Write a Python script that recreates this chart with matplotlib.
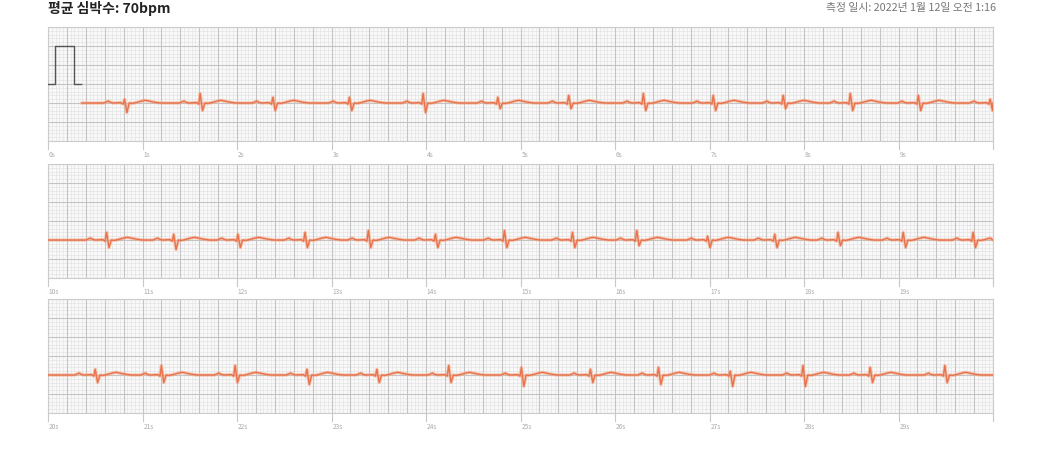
import numpy as np
import matplotlib
matplotlib.use('Agg')
import matplotlib.pyplot as plt

plt.rcParams['font.family'] = ['Noto Sans CJK KR', 'DejaVu Sans']

title_left = '평균 심박수: 70bpm'
title_right = '측정 일시: 2022년 1월 12일 오전 1:16'

# beat (QRS) times in seconds, per 10 s strip
beats1 = [0.81, 1.61, 2.38, 3.19, 3.97, 4.76, 5.51, 6.30, 7.04, 7.78, 8.49, 9.21, 9.97]
beats2 = [0.62, 1.33, 2.01, 2.72, 3.39, 4.10, 4.83, 5.55, 6.23, 6.98, 7.69, 8.36, 9.05, 9.79]
beats3 = [0.50, 1.20, 1.98, 2.74, 3.48, 4.24, 5.01, 5.74, 6.46, 7.22, 7.99, 8.70, 9.49]

# R peak height and S dip depth (mV from baseline)
r1 = [0.10, 0.25, 0.15, 0.15, 0.25, 0.15, 0.20, 0.25, 0.20, 0.20, 0.25, 0.20, 0.10]
s1 = [0.25, 0.20, 0.20, 0.20, 0.25, 0.15, 0.15, 0.20, 0.20, 0.15, 0.20, 0.20, 0.20]
r2 = [0.20, 0.15, 0.15, 0.20, 0.25, 0.15, 0.25, 0.20, 0.25, 0.10, 0.15, 0.20, 0.20, 0.20]
s2 = [0.20, 0.25, 0.20, 0.20, 0.20, 0.20, 0.20, 0.20, 0.15, 0.20, 0.20, 0.15, 0.20, 0.20]
r3 = [0.15, 0.25, 0.25, 0.15, 0.15, 0.25, 0.20, 0.15, 0.20, 0.10, 0.25, 0.20, 0.25]
s3 = [0.20, 0.20, 0.20, 0.25, 0.20, 0.20, 0.30, 0.20, 0.25, 0.30, 0.30, 0.20, 0.20]

# one beat: offset (s) and level (mV) relative to R
beat_dt = [-0.22, -0.19, -0.17, -0.15, -0.12, -0.04, -0.015, 0.0, 0.025, 0.05,
           0.08, 0.12, 0.18, 0.22, 0.26, 0.32, 0.38]
beat_mv = [0.0, 0.03, 0.05, 0.02, 0.0, 0.01, -0.03, None, None, 0.0,
           -0.01, 0.01, 0.05, 0.07, 0.05, 0.02, 0.0]

baseline = -0.5
trace_start = [0.36, 0.0, 0.0]

# calibration pulse (1 mV)
cal_t = [0.0, 0.07, 0.07, 0.28, 0.28, 0.35]
cal_mv = [0.0, 0.0, 1.0, 1.0, 0.0, 0.0]


def build_trace(beats, r, s, t0):
    t = [t0]
    v = [baseline]
    for b, ra, sa in zip(beats, r, s):
        for dt, mv in zip(beat_dt, beat_mv):
            if dt == 0.0:
                mv = ra
            elif dt == 0.025:
                mv = -sa
            tt = b + dt
            if tt <= t[-1] or tt > 10:
                continue
            t.append(tt)
            v.append(baseline + mv)
    t.append(10.0)
    v.append(baseline)
    return np.array(t), np.array(v)


fig = plt.figure(figsize=(10.4, 4.49), dpi=100)
W, H = 1040, 449
left, right = 48, 993
tops = [27, 164, 299]
ph = 114

strips = [(beats1, r1, s1), (beats2, r2, s2), (beats3, r3, s3)]

for i, (beats, r, s) in enumerate(strips):
    ax = fig.add_axes([left / W, 1 - (tops[i] + ph) / H, (right - left) / W, ph / H])
    ax.set_facecolor('#f9f9f9')
    ax.set_xlim(0, 10)
    ax.set_ylim(-1.5, 1.5)
    # ecg paper grid
    ax.vlines(np.arange(0, 10.001, 0.04), -1.5, 1.5, color='#e4e4e4', lw=0.5, zorder=1)
    ax.hlines(np.arange(-1.5, 1.501, 0.1), 0, 10, color='#e4e4e4', lw=0.5, zorder=1)
    ax.vlines(np.arange(0, 10.001, 0.2), -1.5, 1.5, color='#c4c4c4', lw=0.8, zorder=2)
    ax.hlines(np.arange(-1.5, 1.501, 0.5), 0, 10, color='#c4c4c4', lw=0.8, zorder=2)
    for sp in ax.spines.values():
        sp.set_color('#cccccc')
        sp.set_linewidth(0.8)
    ax.set_xticks([])
    ax.set_yticks([])

    # second marks below the strip
    for k in range(11):
        ax.plot([k, k], [-1.5, -1.5 - 0.2], color='#c8c8c8', lw=0.8, clip_on=False)
        if k < 10:
            ax.text(k + 0.01, -1.5 - 0.37, f'{k + 10 * i}s', fontsize=4.8, color='#aaaaaa',
                    ha='left', va='center')

    if i == 0:
        ax.plot(cal_t, cal_mv, color='#555555', lw=1.0, zorder=3)

    t, v = build_trace(beats, r, s, trace_start[i])
    ax.plot(t, v, color='#f4a07e', lw=2.4, alpha=0.55, zorder=3, solid_joinstyle='round')
    ax.plot(t, v, color='#e8724a', lw=1.0, zorder=4, solid_joinstyle='round')

fig.text(48 / W, 1 - 9 / H, title_left, fontsize=10, fontweight='bold', color='#222222',
         ha='left', va='center')
fig.text(996 / W, 1 - 8 / H, title_right, fontsize=7.8, color='#777777', ha='right', va='center')

fig.savefig('out.png', dpi=100, facecolor='white')
